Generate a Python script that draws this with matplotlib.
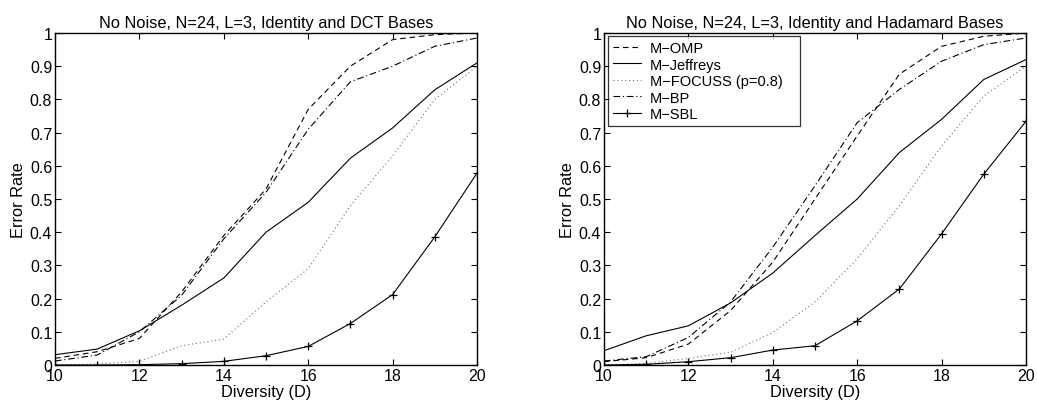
import matplotlib
matplotlib.use("Agg")
import matplotlib.pyplot as plt

plt.rcParams['font.family'] = ['Liberation Sans', 'DejaVu Sans']

D = [10, 11, 12, 13, 14, 15, 16, 17, 18, 19, 20]

# Left: Identity and DCT
dct_omp = [0.02, 0.04, 0.08, 0.22, 0.39, 0.53, 0.77, 0.90, 0.98, 0.995, 1.0]
dct_jef = [0.031, 0.048, 0.103, 0.18, 0.262, 0.40, 0.49, 0.623, 0.714, 0.829, 0.91]
dct_foc = [0.0, 0.003, 0.011, 0.058, 0.078, 0.19, 0.29, 0.48, 0.63, 0.80, 0.90]
dct_bp = [0.012, 0.03, 0.10, 0.21, 0.38, 0.52, 0.71, 0.853, 0.90, 0.96, 0.985]
dct_sbl = [0.0, 0.0, 0.001, 0.004, 0.011, 0.028, 0.056, 0.125, 0.212, 0.386, 0.578]

# Right: Identity and Hadamard
had_omp = [0.01, 0.022, 0.063, 0.164, 0.31, 0.50, 0.69, 0.876, 0.96, 0.99, 1.0]
had_jef = [0.043, 0.088, 0.118, 0.187, 0.277, 0.39, 0.50, 0.64, 0.74, 0.86, 0.92]
had_foc = [0.0, 0.005, 0.02, 0.038, 0.098, 0.19, 0.32, 0.48, 0.66, 0.81, 0.90]
had_bp = [0.012, 0.025, 0.083, 0.19, 0.355, 0.54, 0.73, 0.83, 0.915, 0.965, 0.985]
had_sbl = [0.0, 0.002, 0.01, 0.022, 0.045, 0.058, 0.133, 0.229, 0.395, 0.575, 0.734]

labels = ['M\u2212OMP', 'M\u2212Jeffreys', 'M\u2212FOCUSS (p=0.8)', 'M\u2212BP', 'M\u2212SBL']
titles = ['No Noise, N=24, L=3, Identity and DCT Bases',
          'No Noise, N=24, L=3, Identity and Hadamard Bases']
yticks = [0, 0.1, 0.2, 0.3, 0.4, 0.5, 0.6, 0.7, 0.8, 0.9, 1]
yticklabels = ['0', '0.1', '0.2', '0.3', '0.4', '0.5', '0.6', '0.7', '0.8', '0.9', '1']
xticks = [10, 12, 14, 16, 18, 20]

fig = plt.figure(figsize=(10.37, 4.06), dpi=100)
W, H = 1037, 406
ax1 = fig.add_axes([55 / W, 1 - 366 / H, 422 / W, 332 / H])
ax2 = fig.add_axes([604 / W, 1 - 366 / H, 422 / W, 332 / H])

lw = 0.8
for ax, data, title in [(ax1, (dct_omp, dct_jef, dct_foc, dct_bp, dct_sbl), titles[0]),
                        (ax2, (had_omp, had_jef, had_foc, had_bp, had_sbl), titles[1])]:
    omp, jef, foc, bp, sbl = data
    ax.plot(D, omp, color='black', lw=lw, linestyle=(0, (5, 3.5)), label=labels[0])
    ax.plot(D, jef, color='black', lw=lw, linestyle='-', label=labels[1])
    ax.plot(D, foc, color='0.45', lw=lw, linestyle=(0, (1, 2.5)), label=labels[2])
    ax.plot(D, bp, color='black', lw=lw, linestyle=(0, (6, 2.5, 1, 2.5)), label=labels[3])
    ax.plot(D, sbl, color='black', lw=lw, linestyle='-', marker='+', markersize=6,
            markeredgewidth=0.9, label=labels[4])
    ax.set_xlim(10, 20)
    ax.set_ylim(0, 1)
    ax.set_xticks(xticks)
    ax.set_xticklabels([str(x) for x in xticks])
    ax.set_yticks(yticks)
    ax.set_yticklabels(yticklabels)
    ax.tick_params(direction='in', top=True, right=True, length=4, width=0.8,
                   labelsize=11.5, pad=2)
    for s in ax.spines.values():
        s.set_linewidth(1.0)
    ax.set_title(title, fontsize=11.8, pad=4)
    ax.set_xlabel('Diversity (D)', fontsize=11.8, labelpad=1)
    ax.set_ylabel('Error Rate', fontsize=11.8, labelpad=3)

leg = ax2.legend(loc='upper left', fontsize=10.5, frameon=True, fancybox=False,
                 edgecolor='black', bbox_to_anchor=(0.0095, 0.0, 0.455, 0.991),
                 mode='expand', borderaxespad=0.0, handlelength=1.9,
                 labelspacing=0.17, borderpad=0.35, handletextpad=0.6)
leg.get_frame().set_linewidth(0.9)

fig.savefig('out.png', dpi=100)
